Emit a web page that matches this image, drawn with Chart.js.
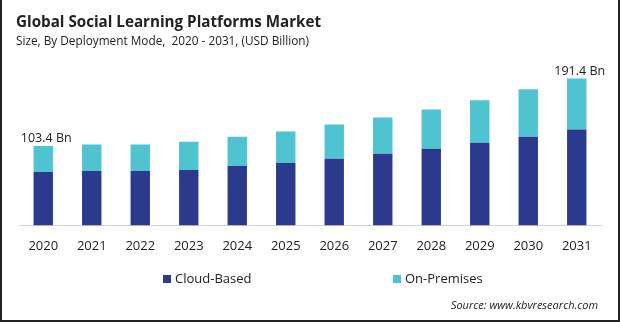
<!DOCTYPE html>
<html>
<head>
<meta charset="utf-8">
<script src="https://cdn.jsdelivr.net/npm/chart.js@4.4.1/dist/chart.umd.min.js"></script>
<style>
  html, body { margin: 0; padding: 0; background: #fff; }
  #wrap {
    position: relative; width: 620px; height: 322px; box-sizing: border-box;
    border-left: 2px solid #222; border-right: 2px solid #222; border-bottom: 2px solid #222;
  }
  #wrap canvas { position: absolute; left: -2px; top: 0; }
</style>
</head>
<body>
<div id="wrap"><canvas id="mkt" width="620" height="322"></canvas></div>
<script>
// Deployment mode split, USD billion
const years = ['2020', '2021', '2022', '2023', '2024', '2025', '2026', '2027', '2028', '2029', '2030', '2031'];
const cloudBased = [69.7, 71.0, 71.0, 72.3, 77.6, 81.5, 86.8, 93.4, 99.9, 107.8, 115.7, 124.9];
const onPremises = [33.7, 34.4, 34.4, 36.8, 38.1, 40.8, 44.7, 47.3, 51.3, 55.3, 61.8, 66.5];
const totalLabels = { 0: '103.4 Bn', 11: '191.4 Bn' };

const FONT = "'Open Sans', 'Noto Sans', sans-serif";

// headings, legend, source line and the two total labels
const decor = {
  id: 'decor',
  afterDraw(chart) {
    const ctx = chart.ctx;
    ctx.save();
    ctx.fillStyle = '#222';
    ctx.textBaseline = 'alphabetic';
    ctx.textAlign = 'left';
    ctx.font = 'bold 15.2px ' + FONT;
    ctx.fillText('Global Social Learning Platforms Market', 16, 27);
    ctx.font = '11.8px ' + FONT;
    ctx.fillText('Size, By Deployment Mode,  2020 - 2031, (USD Billion)', 16, 45);

    // totals above the first and last bars
    const top = chart.getDatasetMeta(1);
    ctx.font = '12.5px ' + FONT;
    ctx.textAlign = 'center';
    ctx.textBaseline = 'bottom';
    Object.keys(totalLabels).forEach(i => {
      const bar = top.data[i];
      ctx.fillText(totalLabels[i], bar.x + 3, bar.y - 1);
    });

    // legend
    const items = [[163, 0], [393, 1]];
    ctx.textAlign = 'left';
    ctx.textBaseline = 'middle';
    ctx.font = '13px ' + FONT;
    items.forEach(([x, d]) => {
      const ds = chart.data.datasets[d];
      ctx.fillStyle = ds.backgroundColor;
      ctx.fillRect(x, 275, 8, 8);
      ctx.fillStyle = '#222';
      ctx.fillText(ds.label, x + 12, 279);
    });

    ctx.font = 'italic 11px ' + FONT;
    ctx.textAlign = 'right';
    ctx.fillText('Source: www.kbvresearch.com', 598, 306);
    ctx.restore();
  }
};

new Chart(document.getElementById('mkt'), {
  type: 'bar',
  data: {
    labels: years,
    datasets: [
      { label: 'Cloud-Based', data: cloudBased, backgroundColor: '#2c3a8e' },
      { label: 'On-Premises', data: onPremises, backgroundColor: '#4fc4d0' }
    ]
  },
  options: {
    responsive: false,
    animation: false,
    events: [],
    layout: { padding: { left: 19, right: 19, top: 72, bottom: 63 } },
    datasets: { bar: { categoryPercentage: 1, barPercentage: 0.4 } },
    plugins: { legend: { display: false }, tooltip: { enabled: false } },
    scales: {
      x: {
        stacked: true,
        grid: { display: false },
        border: { display: true, color: '#d4d4d4', width: 1 },
        ticks: { color: '#222', font: { family: FONT, size: 13 }, padding: 5 }
      },
      y: { stacked: true, display: false, min: 0, max: 200 }
    }
  },
  plugins: [decor]
});
</script>
</body>
</html>
